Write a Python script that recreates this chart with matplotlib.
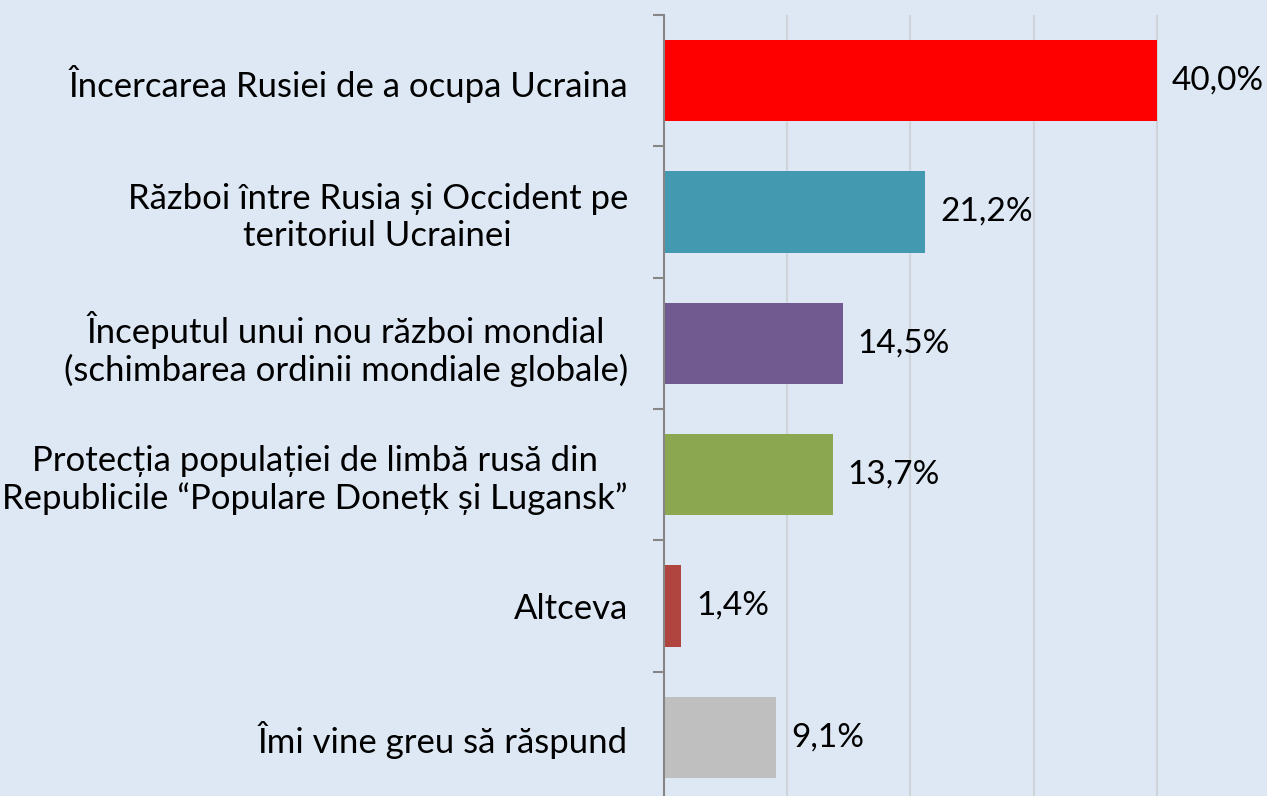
import matplotlib.pyplot as plt
from matplotlib.ticker import FixedLocator

plt.rcParams['font.family'] = ['Lato', 'DejaVu Sans']

categories = ['Încercarea Rusiei de a ocupa Ucraina',
              'Război între Rusia și Occident pe\nteritoriul Ucrainei',
              'Începutul unui nou război mondial\n(schimbarea ordinii mondiale globale)',
              'Protecția populației de limbă rusă din\nRepublicile “Populare Donețk și Lugansk”',
              'Altceva',
              'Îmi vine greu să răspund']
values = [40.0, 21.2, 14.5, 13.7, 1.4, 9.1]
colors = ['#FF0000', '#4399B0', '#715A8F', '#8BA850', '#B0453F', '#BFBFBF']
bg = '#DEE8F4'

W, H = 1267, 796
fig = plt.figure(figsize=(W / 100, H / 100), dpi=100, facecolor=bg)
# axes in pixels: x 664..1280, y 15..803 (from top)
ax = fig.add_axes([664 / W, (H - 803) / H, 616 / W, 788 / H])
ax.set_facecolor(bg)

ypos = list(range(len(categories)))
ax.barh(ypos, values, height=0.62, color=colors, zorder=3)
ax.set_ylim(len(categories) - 0.5, -0.5)
ax.set_xlim(0, 50)

for y, v in zip(ypos, values):
    ax.text(v + 1.2, y, f'{v:.1f}%'.replace('.', ','), va='center', ha='left',
            fontsize=24, color='black')

ax.set_yticks(ypos)
ax.set_yticklabels(categories, fontsize=25, linespacing=1.2)
ax.yaxis.set_minor_locator(FixedLocator([i - 0.5 for i in range(len(categories) + 1)]))
ax.tick_params(axis='y', which='major', length=0, pad=26)
ax.tick_params(axis='y', which='minor', length=8, color='#868686', width=1.5)
for lab in ax.get_yticklabels():
    lab.set_multialignment('center')

ax.set_xticks([0, 10, 20, 30, 40, 50])
ax.tick_params(axis='x', length=0, labelbottom=False)
ax.grid(axis='x', color='#D0D4D8', linewidth=1.5, zorder=0)

for s in ['top', 'right', 'bottom']:
    ax.spines[s].set_visible(False)
ax.spines['left'].set_color('#868686')
ax.spines['left'].set_linewidth(1.5)
ax.spines['left'].set_zorder(4)

fig.savefig('out.png', dpi=100, facecolor=bg)
